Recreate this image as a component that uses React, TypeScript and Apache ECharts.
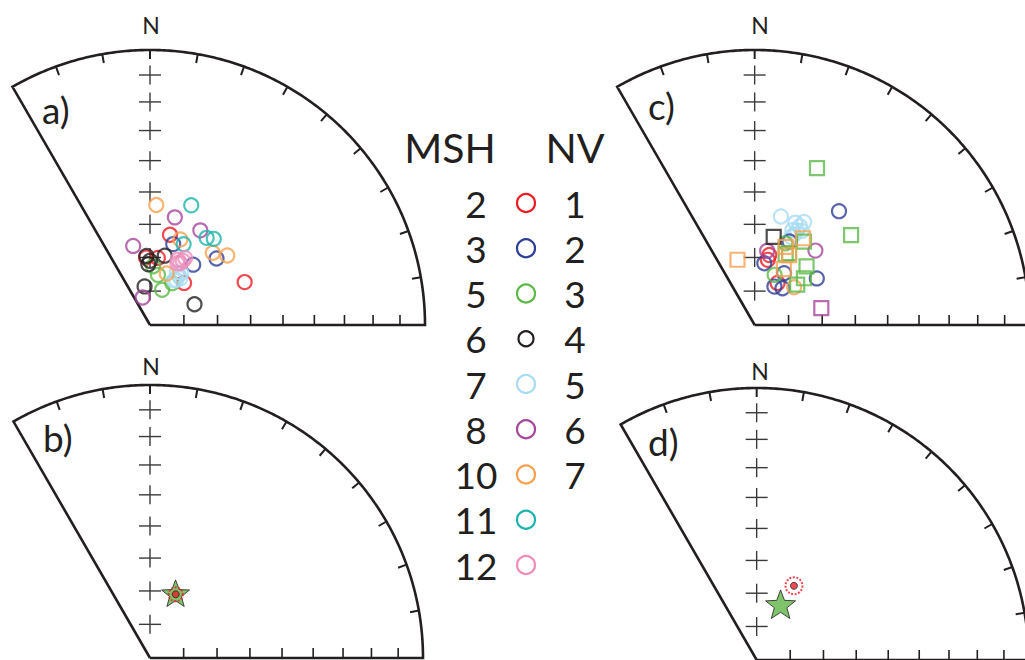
import React, { useEffect, useRef } from "react";
import * as echarts from "echarts";

const FONT = 'Lato, "Open Sans", sans-serif';
const INK = "#231f20";

const COL = {
  red: "#ed1c24",
  blue: "#2e3f98",
  green: "#5db947",
  black: "#231f20",
  lightBlue: "#a9dcf3",
  purple: "#a6479b",
  orange: "#f7a150",
  teal: "#1db4ad",
  pink: "#ef8dba",
};

// ---------- Panel a: MSH sample directions [declination, inclination] ----------
const MSH2 = [[12.5, 62.5], [356.6, 70], [6.7, 70], [39, 74], [65.6, 59]];
const MSH3 = [[16, 65], [45, 62], [35.6, 68]];
const MSH5 = [[19, 79], [28, 76], [3, 72.6], [9, 75]];
const MSH6 = [[357, 69.5], [358.4, 72], [12, 69], [352, 78.5], [65, 75.5], [0, 71]];
const MSH7 = [[30, 73], [31, 72], [30, 74.6], [27, 72.5], [33, 73.5], [28, 75]];
const MSH8 = [[13, 57], [28, 58], [348, 66], [345, 81.6]];
const MSH10 = [[3, 54], [19.5, 63], [41, 61.5], [48, 59], [18, 74]];
const MSH11 = [[19, 52], [33, 59], [36.5, 58], [22.6, 64]];
const MSH12 = [[23, 69], [27, 68.6], [26, 69.6], [27.6, 67.6], [24, 70]];

// ---------- Panel c: NV sample directions ----------
const NV1 = [[12, 68.8], [11.6, 70.3], [29, 75.8]];
const NV2 = [[37, 47], [53.6, 66.7], [9, 71.5], [27.6, 77.2], [37.6, 76.3], [23, 63], [30, 72.3]];
const NV3 = [[22, 74], [21, 64]];
const NV5 = [[13.8, 56.6], [22, 57], [25, 57.5], [24.5, 59], [26, 55.7], [22, 59.5], [24, 60.5], [27, 58.5], [23, 61.5]];
const NV6 = [[9.7, 67.7], [39.7, 61.2]];
const NV7 = [[46.7, 73.7]];
const NV3_SQ = [[22, 38.4], [47.5, 50], [31, 61], [26, 66.3], [42, 66.6], [47, 69.7], [47, 72.5], [24, 67]];
const NV7_SQ = [[345, 70], [29.5, 60.3], [22, 65], [26.6, 66.8], [28, 71.3]];
const NV4_SQ = [[12.4, 63.2]];
const NV6_SQ = [[76, 69.3]];

// ---------- Panels b & d: reference direction (star) and mean with a95 ----------
const B_STAR = [[21.5, 69.2]];
const B_MEAN = [[22, 69.5]];
const D_STAR = [[23.5, 71.8]];
const D_MEAN = [[27, 65]];

// ---------- Legend ----------
const MSH_SITES = ["2", "3", "5", "6", "7", "8", "10", "11", "12"];
const NV_SITES = ["1", "2", "3", "4", "5", "6", "7"];
const LEGEND_COLORS = [COL.red, COL.blue, COL.green, COL.black, COL.lightBlue, COL.purple, COL.orange, COL.teal, COL.pink];

// inclination ticks (degrees) on the N axis and E axis
const INC_TICKS = [80, 70, 60, 50, 40, 30, 20, 10];
const AZ_TICKS = [-20, -10, 0, 10, 20, 30, 40, 50, 60, 70, 80];

// ---------- layout ----------
const PANELS = [
  { cx: 150, cy: 325, R: 275, label: "a)", lx: 42, ly: 109, nx: 151, ny: 25 },
  { cx: 150, cy: 658, R: 273, label: "b)", lx: 43, ly: 437, nx: 151, ny: 366 },
  { cx: 757, cy: 325, R: 275, label: "c)", lx: 648, ly: 105, nx: 760, ny: 25 },
  { cx: 759, cy: 661, R: 273, label: "d)", lx: 648, ly: 441, nx: 760, ny: 371 },
];

const rad = (d: number) => (d * Math.PI) / 180;
const eaR = (inc: number) => Math.SQRT2 * Math.sin(rad((90 - Math.abs(inc)) / 2));
const ea = (p: number[]) => {
  const r = eaR(p[1]);
  return [r * Math.sin(rad(p[0])), r * Math.cos(rad(p[0]))];
};

const STAR_PATH = (() => {
  let d = "";
  for (let k = 0; k < 10; k++) {
    const rr = k % 2 ? 0.42 : 1;
    const a = rad(-90 + k * 36);
    const x = 50 + 50 * rr * Math.cos(a);
    const y = 50 + 50 * rr * Math.sin(a);
    d += (k ? "L" : "M") + x.toFixed(2) + " " + y.toFixed(2) + " ";
  }
  return "path://" + d + "Z";
})();

function frameSeries(g: number) {
  return {
    type: "custom",
    coordinateSystem: "cartesian2d",
    xAxisIndex: g,
    yAxisIndex: g,
    data: [[0, 0]],
    silent: true,
    clip: false,
    z: 1,
    renderItem: (_params: any, api: any) => {
      const o = api.coord([0, 0]);
      const t = api.coord([0, 1]);
      const R = o[1] - t[1];
      const pt = (az: number, rr: number) => [o[0] + rr * Math.sin(rad(az)), o[1] - rr * Math.cos(rad(az))];
      const children: any[] = [];
      const outline: number[][] = [o];
      for (let az = -30; az <= 90; az += 0.5) outline.push(pt(az, R));
      outline.push(o);
      children.push({
        type: "polyline",
        shape: { points: outline },
        style: { stroke: INK, lineWidth: 2.6, fill: null, lineJoin: "miter" },
      });
      AZ_TICKS.forEach((az) => {
        const a = pt(az, R);
        const b = pt(az, R - 9);
        children.push({ type: "line", shape: { x1: a[0], y1: a[1], x2: b[0], y2: b[1] }, style: { stroke: INK, lineWidth: 2 } });
      });
      INC_TICKS.forEach((inc) => {
        const r = eaR(inc) * R;
        const y = o[1] - r;
        children.push({ type: "line", shape: { x1: o[0] - 11, y1: y, x2: o[0] + 11, y2: y }, style: { stroke: "#3a3a3a", lineWidth: 1.4 } });
        children.push({ type: "line", shape: { x1: o[0], y1: y - 9.5, x2: o[0], y2: y + 9.5 }, style: { stroke: "#3a3a3a", lineWidth: 1.4 } });
        const x = o[0] + r;
        children.push({ type: "line", shape: { x1: x, y1: o[1], x2: x, y2: o[1] - 10 }, style: { stroke: INK, lineWidth: 1.6 } });
      });
      return { type: "group", children };
    },
  };
}

function pts(name: string, data: number[][], g: number, color: string, symbol = "circle", size = 14) {
  return {
    type: "scatter",
    name,
    xAxisIndex: g,
    yAxisIndex: g,
    data: data.map(ea),
    symbol,
    symbolSize: size,
    clip: false,
    silent: true,
    z: 3,
    itemStyle: { color: "rgba(0,0,0,0)", borderColor: color, borderWidth: 2.2 },
  };
}

function txt(text: string, x: number, y: number, size: number, align = "center") {
  return {
    type: "text",
    x,
    y,
    silent: true,
    style: {
      text,
      font: `${size}px ${FONT}`,
      fill: INK,
      textAlign: align,
      align,
      textVerticalAlign: "middle",
      verticalAlign: "middle",
    },
  };
}

export default function App() {
  const ref = useRef<HTMLDivElement>(null);
  useEffect(() => {
    if (!ref.current) return;
    const chart = echarts.init(ref.current, null, { renderer: "svg" });

    const graphic: any[] = [];
    PANELS.forEach((p) => {
      graphic.push(txt(p.label, p.lx, p.ly, 37, "left"));
      graphic.push(txt("N", p.nx, p.ny, 23));
    });
    graphic.push(txt("MSH", 450, 147, 41));
    graphic.push(txt("NV", 575, 147, 41));
    const y0 = 203;
    const step = 45.25;
    MSH_SITES.forEach((s, i) => {
      graphic.push(txt(s, 476, y0 + i * step, 37));
      const isBlack = LEGEND_COLORS[i] === COL.black;
      graphic.push({
        type: "circle",
        silent: true,
        shape: { cx: 526, cy: y0 + i * step, r: isBlack ? 7.5 : 9 },
        style: { fill: "none", stroke: LEGEND_COLORS[i], lineWidth: 2.2 },
      });
    });
    NV_SITES.forEach((s, i) => graphic.push(txt(s, 575, y0 + i * step, 37)));

    const series: any[] = [0, 1, 2, 3].map((g) => frameSeries(g));
    // panel a (grid 0)
    series.push(
      pts("MSH 2", MSH2, 0, COL.red),
      pts("MSH 3", MSH3, 0, COL.blue),
      pts("MSH 5", MSH5, 0, COL.green),
      pts("MSH 6", MSH6, 0, COL.black),
      pts("MSH 7", MSH7, 0, COL.lightBlue),
      pts("MSH 8", MSH8, 0, COL.purple),
      pts("MSH 10", MSH10, 0, COL.orange),
      pts("MSH 11", MSH11, 0, COL.teal),
      pts("MSH 12", MSH12, 0, COL.pink)
    );
    // panel c (grid 2)
    series.push(
      pts("NV 5", NV5, 2, COL.lightBlue),
      pts("NV 1", NV1, 2, COL.red),
      pts("NV 2", NV2, 2, COL.blue),
      pts("NV 3", NV3, 2, COL.green),
      pts("NV 6", NV6, 2, COL.purple),
      pts("NV 7", NV7, 2, COL.orange),
      pts("NV 4 sq", NV4_SQ, 2, COL.black, "rect", 14),
      pts("NV 3 sq", NV3_SQ, 2, COL.green, "rect", 14),
      pts("NV 7 sq", NV7_SQ, 2, COL.orange, "rect", 14),
      pts("NV 6 sq", NV6_SQ, 2, COL.purple, "rect", 14)
    );
    // stars and means (grids 1 and 3)
    const star = (data: number[][], g: number, size: number) => ({
      type: "scatter",
      xAxisIndex: g,
      yAxisIndex: g,
      data: data.map(ea),
      symbol: STAR_PATH,
      symbolKeepAspect: true,
      symbolSize: size,
      clip: false,
      silent: true,
      z: 3,
      itemStyle: { color: "#5fb446", borderColor: INK, borderWidth: 1 },
    });
    const a95 = (data: number[][], g: number, size: number) => ({
      type: "scatter",
      xAxisIndex: g,
      yAxisIndex: g,
      data: data.map(ea),
      symbol: "circle",
      symbolSize: size,
      clip: false,
      silent: true,
      z: 4,
      itemStyle: { color: "rgba(0,0,0,0)", borderColor: COL.red, borderWidth: 2, borderType: [2, 1.5] },
    });
    const mean = (data: number[][], g: number) => ({
      type: "scatter",
      xAxisIndex: g,
      yAxisIndex: g,
      data: data.map(ea),
      symbol: "circle",
      symbolSize: 7,
      clip: false,
      silent: true,
      z: 5,
      itemStyle: { color: COL.red, borderColor: INK, borderWidth: 1 },
    });
    series.push(star(B_STAR, 1, 28), a95(B_MEAN, 1, 14), mean(B_MEAN, 1));
    series.push(star(D_STAR, 3, 30), a95(D_MEAN, 3, 17), mean(D_MEAN, 3));

    chart.setOption({
      animation: false,
      backgroundColor: "#ffffff",
      grid: PANELS.map((p) => ({ left: p.cx - 0.5 * p.R, top: p.cy - p.R, width: 1.5 * p.R, height: p.R })),
      xAxis: PANELS.map((_p, i) => ({ type: "value", gridIndex: i, min: -0.5, max: 1, show: false })),
      yAxis: PANELS.map((_p, i) => ({ type: "value", gridIndex: i, min: 0, max: 1, show: false })),
      graphic,
      series,
    });
    return () => chart.dispose();
  }, []);
  return <div ref={ref} style={{ position: "fixed", left: 0, top: 0, width: 1025, height: 660 }} />;
}
